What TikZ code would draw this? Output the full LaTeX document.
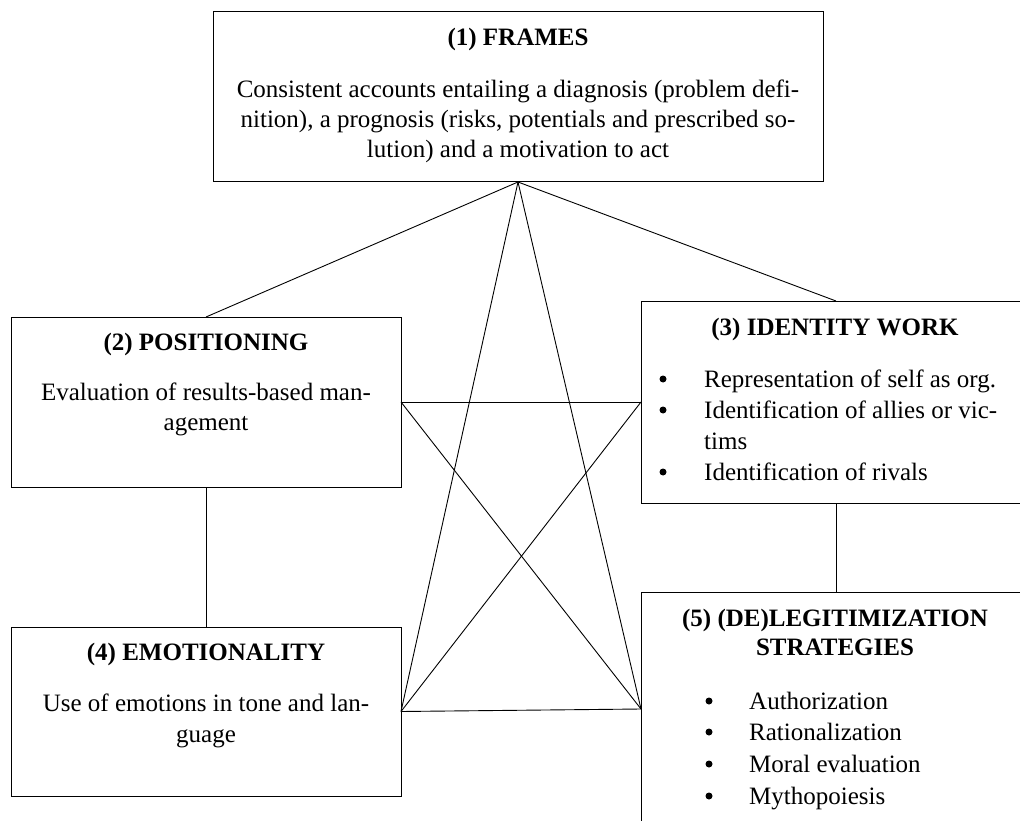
\documentclass[tikz,border=0pt]{standalone}
\usepackage{fontspec}
\setmainfont{Liberation Serif}
\begin{document}
\begin{tikzpicture}[x=1pt,y=-1pt,
  boxnode/.style={draw=black,line width=1pt,inner sep=0pt,outer sep=0pt,anchor=north west},
  link/.style={draw=black,line width=0.9pt},
  bul/.style={circle,fill=black,inner sep=0pt,minimum size=7pt},
  txt/.style={anchor=base,inner sep=0pt,font=\fontsize{25}{30}\selectfont},
  txtl/.style={anchor=base west,inner sep=0pt,font=\fontsize{25}{30}\selectfont},
  ttl/.style={anchor=base,inner sep=0pt,font=\fontsize{25}{30}\selectfont\bfseries}]
\useasboundingbox (0,0) rectangle (1020,821);
\clip (0,0) rectangle (1020,821);
% boxes
\node[boxnode,minimum width=610pt,minimum height=170pt] (b1) at (213,12) {};
\node[boxnode,minimum width=390pt,minimum height=170pt] (b2) at (11,317) {};
\node[boxnode,minimum width=390pt,minimum height=202pt] (b3) at (641,301) {};
\node[boxnode,minimum width=390pt,minimum height=169pt] (b4) at (11,627) {};
\node[boxnode,minimum width=390pt,minimum height=234pt] (b5) at (641,592) {};
% connectors
\draw[link] (b1.south) -- (b2.north);
\draw[link] (b1.south) -- (b3.north);
\draw[link] (b1.south) -- (b4.east);
\draw[link] (b1.south) -- (b5.west);
\draw[link] (b2.east) -- (b3.west);
\draw[link] (b2.east) -- (b5.west);
\draw[link] (b3.west) -- (b4.east);
\draw[link] (b4.east) -- (b5.west);
\draw[link] (b2.south) -- (b4.north);
\draw[link] (b3.south) -- (b5.north);
% box 1 text
\node[ttl] (t1) at (518,46) {(1) FRAMES};
\node[txt] (t1a) at (518,98) {Consistent accounts entailing a diagnosis (problem defi-};
\node[txt] (t1b) at (518,128) {nition), a prognosis (risks, potentials and prescribed so-};
\node[txt] (t1c) at (518,158) {lution) and a motivation to act};
% box 2 text
\node[ttl] (t2) at (206,350) {(2) POSITIONING};
\node[txt] (t2a) at (206,400) {Evaluation of results-based man-};
\node[txt] (t2b) at (206,430) {agement};
% box 3 text
\node[ttl] (t3) at (835,335) {(3) IDENTITY WORK};
\node[bul] (u3a) at (663,379) {};
\node[txtl] (t3a) at (704,387) {Representation of self as org.};
\node[bul] (u3b) at (663,410) {};
\node[txtl] (t3b) at (704,418) {Identification of allies or vic-};
\node[txtl] (t3c) at (704,449) {tims};
\node[bul] (u3d) at (663,472) {};
\node[txtl] (t3d) at (704,480) {Identification of rivals};
% box 4 text
\node[ttl] (t4) at (206,660) {(4) EMOTIONALITY};
\node[txt] (t4a) at (206,711) {Use of emotions in tone and lan-};
\node[txt] (t4b) at (206,742) {guage};
% box 5 text
\node[ttl] (t5) at (835,626) {(5) (DE)LEGITIMIZATION};
\node[ttl] (t5b) at (835,655) {STRATEGIES};
\node[bul] (u5a) at (709,701) {};
\node[txtl] (t5c) at (749,709) {Authorization};
\node[bul] (u5b) at (709,732) {};
\node[txtl] (t5d) at (749,740) {Rationalization};
\node[bul] (u5c) at (709,764) {};
\node[txtl] (t5e) at (749,772) {Moral evaluation};
\node[bul] (u5d) at (709,796) {};
\node[txtl] (t5f) at (749,804) {Mythopoiesis};
\end{tikzpicture}
\end{document}
